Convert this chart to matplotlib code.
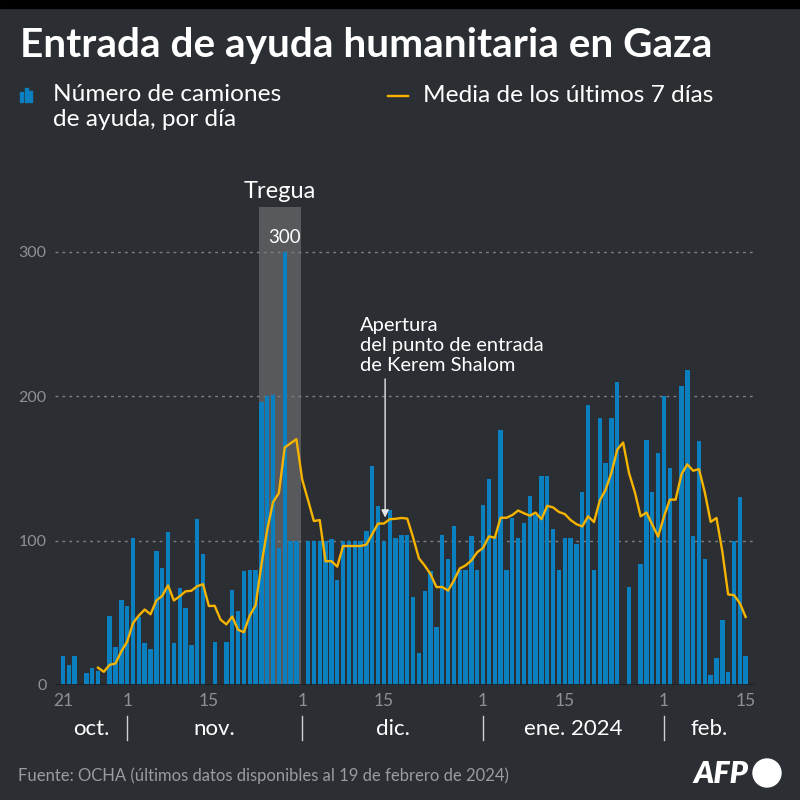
import pandas as pd
import numpy as np
import matplotlib
matplotlib.use("Agg")
import matplotlib.pyplot as plt
import matplotlib.dates as mdates
from matplotlib.patches import Circle, Rectangle

# daily trucks entering Gaza, from 21 Oct 2023 (NaN = no data that day)
start_date = "2023-10-21"
trucks = [20, 14, 20, 0, 8, 12, 10, 0, 48, 26, 59, 55, 102, 47, 29, 25, 93, 81,
          106, 29, 67, 53, 28, 115, 91, 0, 30, 0, 30, 66, 51, 79, 80, 80, 196,
          200, 201, 95, 300, 100, 100, 0, 100, 100, 100, 100, 101, 73, 100, 100,
          100, 100, 107, 152, 124, 100, 121, 102, 104, 104, 61, 22, 65, 79, 40,
          104, 87, 110, 80, 80, 103, 80, 125, 143, 103, 177, 80, 116, 102, 112,
          131, 118, 145, 145, 108, 80, 102, 102, 98, 134, 194, 80, 185, 154, 185,
          210, np.nan, 68, 0, 84, 170, 134, 161, 200, 150, 0, 207, 218, 103, 169,
          87, 7, 19, 45, 9, 100, 130, 20]

tick_days = ["2023-10-21", "2023-11-01", "2023-11-15", "2023-12-01", "2023-12-15",
             "2024-01-01", "2024-01-15", "2024-02-01", "2024-02-15"]
tick_labels = ["21", "1", "15", "1", "15", "1", "15", "1", "15"]
month_starts = ["2023-11-01", "2023-12-01", "2024-01-01", "2024-02-01"]
month_labels = ["oct.", "nov.", "dic.", "ene. 2024", "feb."]

truce = ("2023-11-23 14:30", "2023-11-30 19:00")
kerem_shalom = "2023-12-15 05:00"

BG = "#2b2f33"
BLUE = "#0a80c0"
YELLOW = "#f6b400"
GREY = "#8e9194"

plt.rcParams['font.family'] = ['Lato', 'DejaVu Sans']

s = pd.Series(trucks, index=pd.date_range(start_date, periods=len(trucks)))
avg = s.rolling(7, min_periods=6).mean().iloc[6:]
x = mdates.date2num(s.index)

fig = plt.figure(figsize=(8, 8), dpi=100, facecolor=BG)
fig.patches.append(Rectangle((0, 0.99), 1, 0.01, transform=fig.transFigure,
                             color="black", zorder=0))
ax = fig.add_axes([55 / 800, 115 / 800, 700 / 800, 485 / 800])
ax.set_facecolor(BG)

x0 = x[0]
ax.set_xlim(x0 - 1.37, x0 + 118.6)
ax.set_ylim(0, 336)

ax.axvspan(mdates.datestr2num(truce[0]), mdates.datestr2num(truce[1]),
           ymin=0, ymax=331 / 336, color="#58595d", lw=0, zorder=0)
for v in [100, 200, 300]:
    ax.axhline(v, color="#7d8083", lw=1, ls=(0, (2, 3)), zorder=1)

ax.bar(x, s.fillna(0).values, width=0.75, color=BLUE, zorder=2)
ax.plot(mdates.date2num(avg.index), avg.values, color=YELLOW, lw=1.7, zorder=3)
ax.axhline(0, color="#1b1d1f", lw=1.2, zorder=4)

for sp in ax.spines.values():
    sp.set_visible(False)
ax.set_yticks([0, 100, 200, 300])
ax.tick_params(axis="y", length=0, pad=6, labelsize=11.5, labelcolor=GREY)
ax.set_xticks(mdates.datestr2num(tick_days))
ax.set_xticklabels(tick_labels)
ax.tick_params(axis="x", length=0, pad=6, labelsize=12.5, labelcolor=GREY)

# month labels and separators
edges = [ax.get_xlim()[0]] + list(mdates.datestr2num(month_starts)) + [ax.get_xlim()[1]]
trans = ax.get_xaxis_transform()
for i, lab in enumerate(month_labels):
    ax.text((edges[i] + edges[i + 1]) / 2, -0.09, lab, transform=trans,
            ha="center", va="center", color="white", fontsize=16)
for m in mdates.datestr2num(month_starts):
    ax.plot([m, m], [-0.063, -0.113], transform=trans, color="#d0d0d0",
            lw=1, clip_on=False)

# annotations
peak_day = s.idxmax()
ax.text(mdates.date2num(peak_day), 310, "300", ha="center", va="center",
        color="white", fontsize=13.5)
ax.text(np.mean(mdates.datestr2num(truce)), 342, "Tregua", ha="center",
        va="center", color="white", fontsize=17, clip_on=False)
ks = mdates.datestr2num(kerem_shalom)
ax.text(ks - 4.3, 255, "Apertura\ndel punto de entrada\nde Kerem Shalom",
        ha="left", va="top", color="white", fontsize=14.5, linespacing=1.2)
ax.annotate("", xy=(ks, 116), xytext=(ks, 212),
            arrowprops=dict(arrowstyle="-|>", color="#e6e6e6", lw=1,
                            mutation_scale=11, shrinkA=0, shrinkB=0))

# title and legend
fig.text(20 / 800, 1 - 45 / 800, "Entrada de ayuda humanitaria en Gaza",
         color="white", fontsize=29.2, fontweight="bold", va="center", ha="left")
for dx, h in [(0, 10), (4.5, 14), (9, 11)]:
    fig.patches.append(Rectangle(((20 + dx) / 800, 1 - 102 / 800), 3 / 800,
                                 h / 800, transform=fig.transFigure, color=BLUE))
fig.text(53 / 800, 1 - 84 / 800, "Número de camiones\nde ayuda, por día",
         color="white", fontsize=17.6, va="top", ha="left", linespacing=1.25)
fig.lines.append(plt.Line2D([388 / 800, 408 / 800], [1 - 96 / 800, 1 - 96 / 800],
                            transform=fig.transFigure, color=YELLOW, lw=1.7))
fig.text(423 / 800, 1 - 95 / 800, "Media de los últimos 7 días",
         color="white", fontsize=17.6, va="center", ha="left")

# footer
fig.text(18 / 800, 1 - 776 / 800,
         "Fuente: OCHA (últimos datos disponibles al 19 de febrero de 2024)",
         color="#9a9c9e", fontsize=12, va="center", ha="left")
fig.text(748 / 800, 1 - 774 / 800, "AFP", color="white", fontsize=22,
         fontweight="heavy", style="italic", va="center", ha="right")
fig.patches.append(Circle((767 / 800, 1 - 773 / 800), 14 / 800,
                          transform=fig.transFigure, color="white"))

fig.savefig("out.png", dpi=100, facecolor=BG)
